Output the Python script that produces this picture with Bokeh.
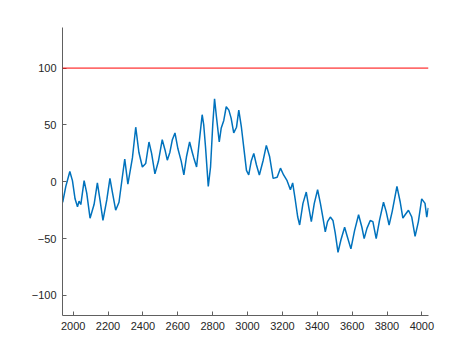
from bokeh.plotting import figure
from bokeh.models import Span, Range1d, FixedTicker
from bokeh.embed import file_html
from bokeh.resources import INLINE

# Series
x_vals = [1940, 1958, 1981, 1996, 2011, 2025, 2034, 2044, 2063, 2078, 2097, 2120, 2139, 2154,
          2171, 2193, 2211, 2225, 2244, 2263, 2282, 2296, 2314, 2340, 2359, 2377, 2397, 2416,
          2435, 2450, 2469, 2489, 2511, 2527, 2540, 2555, 2569, 2584, 2601, 2620, 2635, 2650,
          2668, 2683, 2692, 2708, 2721, 2740, 2749, 2759, 2775, 2788, 2801, 2811, 2822, 2838,
          2849, 2864, 2878, 2893, 2906, 2921, 2937, 2950, 2965, 2978, 2994, 3007, 3021, 3036,
          3051, 3068, 3090, 3108, 3127, 3147, 3170, 3189, 3207, 3227, 3246, 3259, 3274, 3288,
          3299, 3318, 3337, 3351, 3366, 3383, 3402, 3418, 3433, 3446, 3459, 3475, 3490, 3503,
          3519, 3536, 3557, 3570, 3593, 3614, 3637, 3656, 3669, 3685, 3704, 3719, 3738, 3757,
          3780, 3795, 3812, 3830, 3857, 3876, 3891, 3904, 3923, 3942, 3961, 3980, 3999, 4018,
          4028, 4037]
y_vals = [-18, -4, 9, 1, -15, -22, -17, -20, 1, -10, -32, -20, -1, -16,
          -34, -16, 3, -9, -25, -18, 4, 20, -2, 21, 48, 26, 13, 16,
          35, 25, 7, 18, 37, 28, 19, 26, 37, 43, 29, 18, 6, 22,
          35, 26, 21, 13, 32, 59, 50, 31, -4, 13, 51, 73, 57, 35,
          47, 54, 66, 63, 56, 43, 48, 63, 48, 31, 10, 6, 18, 25,
          15, 6, 19, 32, 22, 3, 4, 12, 6, 1, -7, -1, -16, -31,
          -38, -19, -9, -22, -35, -19, -7, -19, -32, -44, -35, -31, -34, -45,
          -62, -51, -40, -47, -59, -43, -29, -40, -50, -41, -34, -35, -50, -34,
          -18, -26, -38, -26, -4, -18, -32, -29, -25, -31, -48, -35, -15, -19,
          -31, -23]
threshold = 100
x_ticks = [2000, 2200, 2400, 2600, 2800, 3000, 3200, 3400, 3600, 3800, 4000]
y_ticks = [-100, -50, 0, 50, 100]
x_limits = (1939, 4038)
y_limits = (-117.6, 135.7)

p = figure(width=474, height=355, output_backend="svg", toolbar_location=None,
           x_range=Range1d(*x_limits), y_range=Range1d(*y_limits),
           min_border_left=62, min_border_right=46, min_border_top=27, min_border_bottom=40)
p.outline_line_color = None
p.background_fill_color = "white"
p.border_fill_color = "white"
p.xgrid.visible = False
p.ygrid.visible = False

p.line(x_vals, y_vals, line_color="#0072BD", line_width=1.5)
p.add_layout(Span(location=threshold, dimension="width", line_color="#FF0000", line_width=1))

p.xaxis.ticker = FixedTicker(ticks=x_ticks)
p.yaxis.ticker = FixedTicker(ticks=y_ticks)
for ax in (p.xaxis, p.yaxis):
    ax.axis_line_color = "#606060"
    ax.axis_line_width = 1
    ax.major_tick_line_color = "#606060"
    ax.major_tick_in = 4
    ax.major_tick_out = 0
    ax.minor_tick_line_color = None
    ax.major_label_text_font = "Liberation Sans"
    ax.major_label_text_font_size = "11px"
    ax.major_label_text_color = "#262626"
    ax.major_label_standoff = 6

open("out.html", "w").write(file_html(p, INLINE))
